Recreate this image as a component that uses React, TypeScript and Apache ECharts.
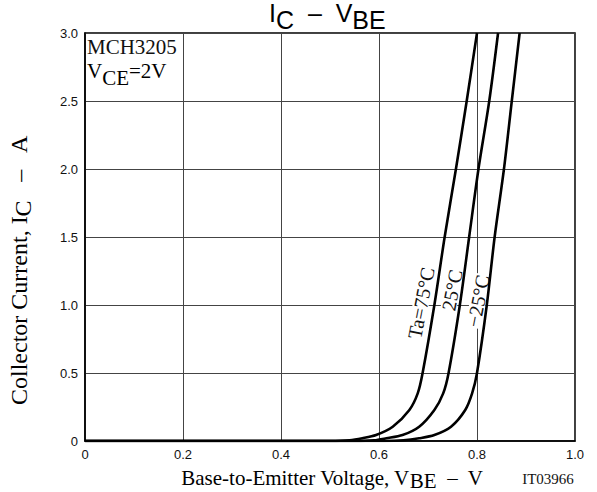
import React, { useEffect, useRef } from "react";
import * as echarts from "echarts";

// ---- data ----
const xTicks = [0, 0.2, 0.4, 0.6, 0.8, 1.0];
const yTicks = [0, 0.5, 1.0, 1.5, 2.0, 2.5, 3.0];
const icLevels = [0, 0, 0.005, 0.02, 0.044, 0.105, 0.228, 0.35, 0.5, 1.0, 1.5, 2.0, 2.5, 3.0];
const vbe75 = [0, 0.5, 0.54, 0.566, 0.594, 0.628, 0.662, 0.679, 0.689, 0.713, 0.734, 0.757, 0.779, 0.8];
const vbe25 = [0, 0.55, 0.59, 0.615, 0.648, 0.682, 0.713, 0.731, 0.742, 0.765, 0.784, 0.803, 0.825, 0.843];
const vbeM25 = [0, 0.61, 0.65, 0.682, 0.713, 0.747, 0.776, 0.79, 0.8, 0.82, 0.836, 0.855, 0.871, 0.887];
const curveNames = ["Ta=75°C", "25°C", "−25°C"];
const curves = [vbe75, vbe25, vbeM25];

const SERIF = "'Liberation Serif', 'Times New Roman', serif";
const SANS = "'Liberation Sans', Arial, sans-serif";

// sub tokens are shifted down by (lineS - lineN) / 2
function subRich(fontSize: number, family: string, lineN: number, lineS: number) {
  return {
    n: { fontSize, fontFamily: family, color: "#111", lineHeight: lineN, verticalAlign: "top" },
    s: { fontSize, fontFamily: family, color: "#111", lineHeight: lineS, verticalAlign: "bottom" },
  };
}

export default function App() {
  const ref = useRef<HTMLDivElement>(null);
  useEffect(() => {
    if (!ref.current) return;
    const chart = echarts.init(ref.current, undefined, { renderer: "svg" });
    const series = curves.map((vs, k) => ({
      name: curveNames[k],
      type: "line",
      data: vs.map((v, i) => [v, icLevels[i]]),
      showSymbol: false,
      smooth: 0.3,
      lineStyle: { color: "#000", width: 2.6 },
      z: 3,
    }));
    const labelPos = [
      [421, 303],
      [452, 290],
      [478, 301],
    ];
    const curveLabels = curveNames.map((t, k) => ({
      type: "text",
      x: labelPos[k][0],
      y: labelPos[k][1],
      rotation: (79 * Math.PI) / 180,
      z: 2,
      style: {
        text: t,
        fontFamily: SERIF,
        fontSize: 20,
        fill: "#111",
        align: "center",
        verticalAlign: "middle",
        backgroundColor: "#fff",
        padding: [-2, 1],
      },
    }));
    chart.setOption({
      animation: false,
      backgroundColor: "#fff",
      grid: {
        left: 85,
        top: 33,
        width: 490,
        height: 408,
        show: true,
        borderColor: "#000",
        borderWidth: 1.5,
        containLabel: false,
      },
      xAxis: {
        type: "value",
        min: xTicks[0],
        max: xTicks[xTicks.length - 1],
        interval: 0.2,
        axisLine: { show: true, lineStyle: { color: "#000", width: 1.5 } },
        axisTick: { show: false },
        splitLine: { show: true, lineStyle: { color: "#444", width: 1 } },
        axisLabel: {
          fontFamily: SANS,
          fontSize: 13,
          color: "#111",
          margin: 7,
          formatter: (v: number) => (v === 0 ? "0" : v.toFixed(1)),
        },
      },
      yAxis: {
        type: "value",
        min: yTicks[0],
        max: yTicks[yTicks.length - 1],
        interval: 0.5,
        axisLine: { show: true, lineStyle: { color: "#000", width: 1.5 } },
        axisTick: { show: false },
        splitLine: { show: true, lineStyle: { color: "#444", width: 1 } },
        axisLabel: {
          fontFamily: SANS,
          fontSize: 13,
          color: "#111",
          margin: 7,
          formatter: (v: number) => (v === 0 ? "0" : v.toFixed(1)),
        },
      },
      series,
      graphic: [
        {
          type: "text",
          x: 269,
          y: 0,
          style: {
            text: "{n|I}{s|C}{n|  –  V}{s|BE}",
            rich: subRich(25, SANS, 16, 32),
            align: "left",
            verticalAlign: "top",
          },
        },
        {
          type: "text",
          x: 87,
          y: 36,
          style: { text: "MCH3205", fontFamily: SERIF, fontSize: 21, fill: "#111", align: "left", verticalAlign: "top" },
        },
        {
          type: "text",
          x: 87,
          y: 60,
          style: {
            text: "{n|V}{s|CE}{n|=2V}",
            rich: subRich(21, SERIF, 18, 28),
            align: "left",
            verticalAlign: "top",
          },
        },
        {
          type: "text",
          x: 332,
          y: 467,
          style: {
            text: "{n|Base-to-Emitter Voltage, V}{s|BE}{n|  –  V}",
            rich: subRich(21, SERIF, 14, 24),
            align: "center",
            verticalAlign: "top",
          },
        },
        {
          type: "text",
          x: 548,
          y: 479,
          style: { text: "IT03966", fontFamily: SERIF, fontSize: 15, fill: "#111", align: "center", verticalAlign: "middle" },
        },
        {
          type: "text",
          x: 21,
          y: 270,
          rotation: Math.PI / 2,
          style: {
            text: "{n|Collector Current, I}{s|C}{n|   –   A}",
            rich: subRich(24, SERIF, 18, 28),
            align: "center",
            verticalAlign: "middle",
          },
        },
        ...curveLabels,
      ],
    });
    return () => chart.dispose();
  }, []);
  return (
    <div
      ref={ref}
      style={{ position: "absolute", left: 0, top: 0, width: 597, height: 492, background: "#fff" }}
    />
  );
}
